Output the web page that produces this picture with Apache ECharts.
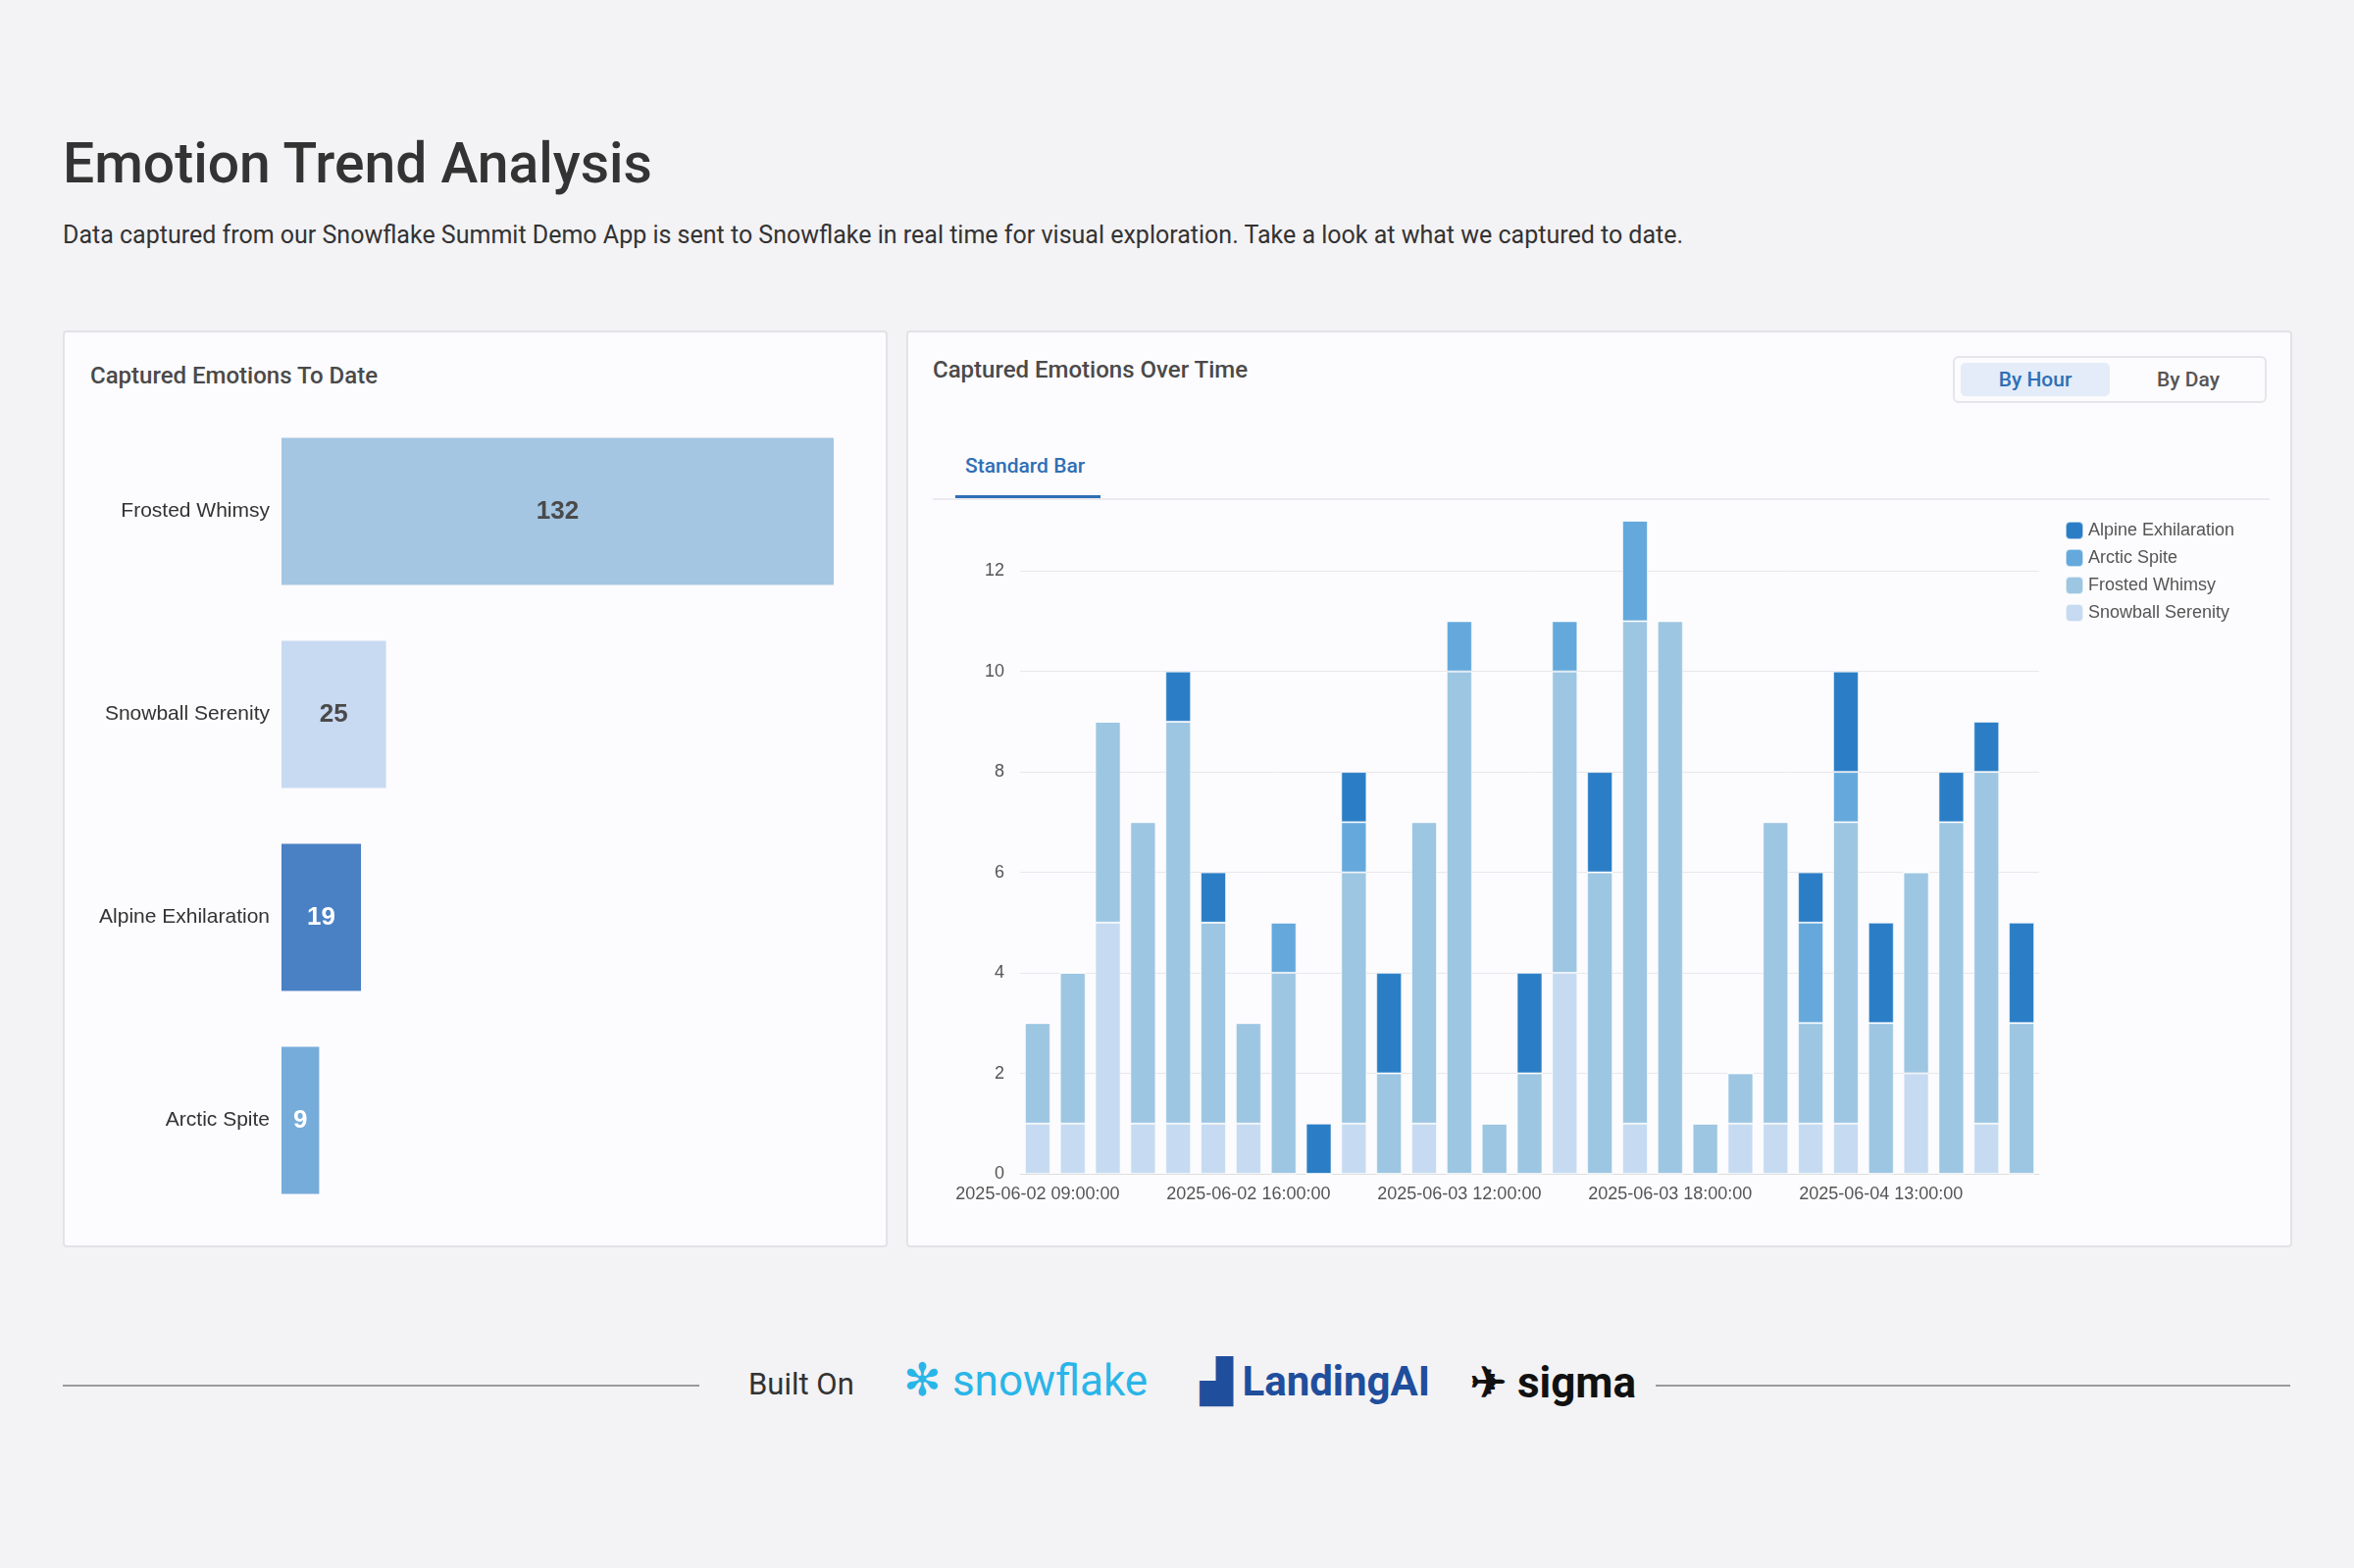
<!DOCTYPE html>
<html>
<head>
<meta charset="utf-8">
<script src="https://cdn.jsdelivr.net/npm/echarts@6/dist/echarts.min.js"></script>
<style>
  body { margin:0; width:2400px; height:1599px; background:#f3f2f4; font-family:Roboto, "Noto Sans", sans-serif; position:relative; overflow:hidden; }
  .abs { position:absolute; }
  .card { position:absolute; background:#fcfbfd; border:2px solid #e3e2e6; border-radius:4px; box-sizing:border-box; }
  .ctitle { position:absolute; font-size:24px; font-weight:500; color:#4a4a4a; }
</style>
</head>
<body>
<div class="abs" style="left:64px;top:133px;font-size:57px;font-weight:500;color:#333;">Emotion Trend Analysis</div>
<div class="abs" style="left:64px;top:225px;font-size:25px;color:#333;">Data captured from our Snowflake Summit Demo App is sent to Snowflake in real time for visual exploration. Take a look at what we captured to date.</div>

<div class="card" style="left:64px;top:337px;width:841px;height:935px;">
  <div class="ctitle" style="left:26px;top:30px;">Captured Emotions To Date</div>
  <div id="left" style="position:absolute;left:0;top:0;width:839px;height:933px;"></div>
</div>

<div class="card" style="left:924px;top:337px;width:1413px;height:935px;">
  <div class="ctitle" style="left:25px;top:24px;">Captured Emotions Over Time</div>
  <div class="abs" style="left:1065px;top:24px;width:320px;height:48px;border:2px solid #e6e5ea;border-radius:6px;box-sizing:border-box;"></div>
  <div class="abs" style="left:1073px;top:31px;width:152px;height:34px;background:#e3ecf8;border-radius:5px;color:#2f6fb5;font-size:21px;font-weight:500;text-align:center;line-height:34px;">By Hour</div>
  <div class="abs" style="left:1230px;top:31px;width:150px;height:34px;color:#555;font-size:21px;font-weight:500;text-align:center;line-height:34px;">By Day</div>
  <div class="abs" style="left:58px;top:124px;font-size:21px;font-weight:500;color:#2f6fb5;">Standard Bar</div>
  <div class="abs" style="left:48px;top:166px;width:148px;height:3px;background:#2f6fb5;"></div>
  <div class="abs" style="left:25px;top:169px;width:1363px;height:2px;background:#ebeaee;"></div>
  <div id="right" style="position:absolute;left:0;top:0;width:1411px;height:933px;"></div>
</div>

<div class="abs" style="left:64px;top:1412px;width:649px;height:2px;background:#9a9a9a;"></div>
<div class="abs" style="left:763px;top:1393px;font-size:31px;color:#333;">Built On</div>
<div class="abs" style="left:921px;top:1380px;font-size:46px;color:#29b5e8;">✻<span style="font-size:44px;"> snowflake</span></div>
<div class="abs" style="left:1224px;top:1384px;font-size:42px;font-weight:700;color:#1f4e9c;">▟ LandingAI</div>
<div class="abs" style="left:1499px;top:1384px;font-size:44px;font-weight:700;color:#111;">✈ sigma</div>
<div class="abs" style="left:1688px;top:1412px;width:647px;height:2px;background:#9a9a9a;"></div>

<script>
var totalNames = ['Frosted Whimsy', 'Snowball Serenity', 'Alpine Exhilaration', 'Arctic Spite'];
var totalValues = [132, 25, 19, 9];
var totalColors = ['#a4c6e3', '#c8daf2', '#4a80c4', '#76acda'];
var totalLabelColors = ['#4a4a4a', '#4a4a4a', '#ffffff', '#ffffff'];

var hours = [
  '2025-06-02 09:00:00','2025-06-02 10:00:00','2025-06-02 11:00:00','2025-06-02 12:00:00','2025-06-02 13:00:00',
  '2025-06-02 15:00:00','2025-06-02 16:00:00','2025-06-02 17:00:00','2025-06-02 18:00:00','2025-06-03 08:00:00',
  '2025-06-03 09:00:00','2025-06-03 10:00:00','2025-06-03 12:00:00','2025-06-03 13:00:00','2025-06-03 14:00:00',
  '2025-06-03 15:00:00','2025-06-03 16:00:00','2025-06-03 17:00:00','2025-06-03 18:00:00','2025-06-03 19:00:00',
  '2025-06-04 09:00:00','2025-06-04 10:00:00','2025-06-04 11:00:00','2025-06-04 12:00:00','2025-06-04 13:00:00',
  '2025-06-04 14:00:00','2025-06-04 15:00:00','2025-06-04 16:00:00','2025-06-04 17:00:00'
];
var snowball = [1,1,5,1,1,1,1,0,0,1,0,1,0,0,0,4,0,1,0,0,1,1,1,1,0,2,0,1,0];
var frosted  = [2,3,4,6,8,4,2,4,0,5,2,6,10,1,2,6,6,10,11,1,1,6,2,6,3,4,7,7,3];
var arctic   = [0,0,0,0,0,0,0,1,0,1,0,0,1,0,0,1,0,2,0,0,0,0,2,1,0,0,0,0,0];
var alpine   = [0,0,0,0,1,1,0,0,1,1,2,0,0,0,2,0,2,0,0,0,0,0,1,2,2,0,1,1,2];
var yTicks = [0, 2, 4, 6, 8, 10, 12];

// 左边：累计横向柱状图
var leftChart = echarts.init(document.getElementById('left'));
leftChart.setOption({
  animation: false,
  grid: { left: 221, right: 55, top: 79, bottom: 26 },
  xAxis: { type: 'value', max: 132, show: false },
  yAxis: {
    type: 'category', inverse: true, data: totalNames,
    axisLine: { show: false }, axisTick: { show: false },
    axisLabel: { fontSize: 21, color: '#333', margin: 12 }
  },
  series: [{
    type: 'bar', barWidth: 150,
    data: totalValues.map(function (v, i) {
      return { value: v, itemStyle: { color: totalColors[i] },
        label: { color: totalLabelColors[i] } };
    }),
    label: { show: true, position: 'inside', fontSize: 26, fontWeight: 'bold' }
  }]
});

// 右边：按小时堆叠柱状图
var rightChart = echarts.init(document.getElementById('right'));
function stackSeries(name, data, color) {
  return { name: name, type: 'bar', stack: 'e', data: data, barWidth: 26,
    itemStyle: { color: color, borderColor: 'rgba(255,255,255,0.6)', borderWidth: 1 } };
}
rightChart.setOption({
  animation: false,
  grid: { left: 114, right: 258, top: 192, bottom: 75 },
  legend: {
    orient: 'vertical', left: 1174, top: 187, itemWidth: 18, itemHeight: 18, itemGap: 8,
    textStyle: { fontSize: 18, color: '#555' },
    data: ['Alpine Exhilaration', 'Arctic Spite', 'Frosted Whimsy', 'Snowball Serenity']
  },
  xAxis: {
    type: 'category', data: hours,
    axisLine: { lineStyle: { color: '#ddd' } }, axisTick: { show: false },
    axisLabel: { interval: 5, fontSize: 18, color: '#555', margin: 12 }
  },
  yAxis: {
    type: 'value', min: 0, max: 13, interval: 2,
    axisLabel: { fontSize: 18, color: '#555', margin: 16,
      formatter: function (v) { return yTicks.indexOf(v) >= 0 ? v : ''; } },
    splitLine: { lineStyle: { color: ['#e8e7eb','#e8e7eb','#e8e7eb','#e8e7eb','#e8e7eb','#e8e7eb','#e8e7eb','rgba(0,0,0,0)'] } }
  },
  series: [
    stackSeries('Snowball Serenity', snowball, '#c6dbf1'),
    stackSeries('Frosted Whimsy', frosted, '#9dc6e2'),
    stackSeries('Arctic Spite', arctic, '#65a9dc'),
    stackSeries('Alpine Exhilaration', alpine, '#2b7ec5')
  ]
});
</script>
</body>
</html>
